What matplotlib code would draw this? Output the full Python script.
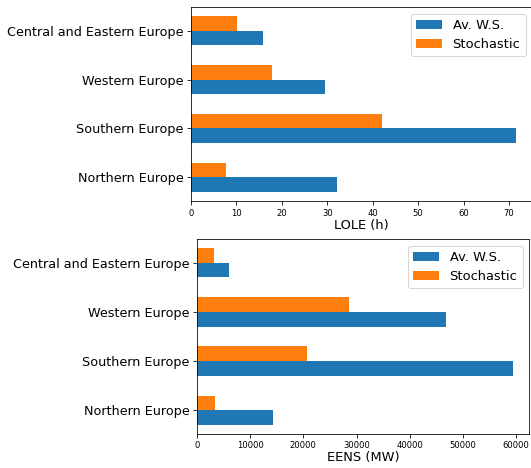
import numpy as np
import matplotlib
matplotlib.use('Agg')
import matplotlib.pyplot as plt

regions = ['Northern Europe', 'Southern Europe', 'Western Europe',
           'Central and Eastern Europe']
lole_avws = [32.1, 71.5, 29.6, 15.9]
lole_stoch = [7.8, 42.0, 17.9, 10.2]
eens_avws = [14380, 59450, 46800, 5950]
eens_stoch = [3380, 20750, 28500, 3130]

W, H = 531, 468
fig = plt.figure(figsize=(W / 72, H / 72), dpi=72)

def px_axes(left, top, right, bottom):
    return fig.add_axes([left / W, (H - bottom) / H,
                         (right - left) / W, (bottom - top) / H])

def region_bars(ax, avws, stoch, xlabel):
    y = np.arange(len(regions))
    h = 0.3
    ax.barh(y - h / 2, avws, h, color='#1f77b4', label='Av. W.S.')
    ax.barh(y + h / 2, stoch, h, color='#ff7f0e', label='Stochastic')
    ax.set_yticks(y)
    ax.set_yticklabels(regions, fontsize=12.8)
    ax.tick_params(axis='x', labelsize=8.5)
    ax.tick_params(length=4)
    ax.set_xlabel(xlabel, fontsize=13, labelpad=1)
    ax.legend(fontsize=13, loc='upper right')

ax1 = px_axes(191, 7, 532, 201)
region_bars(ax1, lole_avws, lole_stoch, 'LOLE (h)')

ax2 = px_axes(197, 239, 529, 434)
region_bars(ax2, eens_avws, eens_stoch, 'EENS (MW)')

fig.savefig('out.png', dpi=72)
